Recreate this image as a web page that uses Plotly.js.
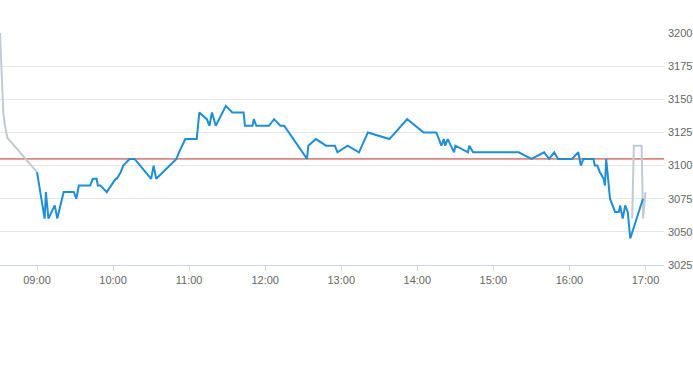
<!DOCTYPE html>
<html>
<head>
<meta charset="utf-8">
<script src="https://cdn.plot.ly/plotly-3.0.1.min.js"></script>
<style>html,body{margin:0;padding:0;background:#fff;}#chart{width:693px;height:365px;}</style>
</head>
<body>
<div id="chart"></div>
<script>
const day = '2024-01-02 ';
// pre-market (gray)
const preTimes = ['08:30:48','08:31:36','08:32:24','08:33:24','08:34:42','08:36:36','09:00:00'];
const preValues = [3200, 3180, 3160, 3140, 3130, 3121, 3095];
// session (blue)
const sessTimes = ['09:00','09:06','09:07','09:09','09:14','09:16','09:21','09:29','09:31','09:33',
 '09:42','09:44','09:47','09:48','09:50','09:55','10:02','10:03','10:06','10:08',
 '10:13','10:17','10:30','10:32','10:34','10:50','10:52','10:57','11:06','11:08',
 '11:14','11:16','11:18','11:21','11:29','11:34','11:43','11:44','11:50','11:51',
 '11:53','12:03','12:07','12:12','12:15','12:33','12:34','12:40','12:48','12:55',
 '12:57','13:05','13:14','13:21','13:38','13:52','14:05','14:15','14:19','14:21',
 '14:22','14:24','14:29','14:30','14:40','14:41','14:44','15:20','15:30','15:40',
 '15:44','15:48','15:51','16:02','16:07','16:09','16:11','16:19','16:20','16:22',
 '16:24','16:27','16:28','16:29','16:32','16:36','16:39','16:40','16:42','16:44',
 '16:46','16:48','16:58'];
const sessValues = [3095,3060,3080,3060,3070,3060,3080,3080,3075,3085,
 3085,3090,3090,3085,3085,3080,3090,3090,3095,3100,
 3105,3105,3090,3100,3090,3105,3110,3120,3120,3140,
 3135,3130,3140,3130,3145,3140,3140,3130,3130,3135,
 3130,3130,3135,3130,3130,3105,3115,3120,3115,3115,
 3110,3115,3110,3125,3120,3135,3125,3125,3115,3120,
 3115,3120,3110,3115,3110,3115,3110,3110,3105,3110,
 3105,3110,3105,3105,3110,3100,3105,3105,3100,3100,
 3095,3090,3085,3105,3075,3065,3065,3070,3060,3070,
 3065,3045,3075];
// post-market (gray)
const postTimes = ['16:49:30','16:50:48','16:56:56','16:58:06','17:00:00'];
const postValues = [3060, 3115, 3115, 3060, 3080];
const refValue = 3105;
const yTicks = [3025, 3050, 3075, 3100, 3125, 3150, 3175, 3200];

const toX = a => a.map(t => day + (t.length === 5 ? t + ':00' : t));

const traces = [
  {x: toX(preTimes), y: preValues, type: 'scatter', mode: 'lines',
   line: {color: '#c3cad2', width: 2}, hoverinfo: 'skip'},
  {x: toX(postTimes), y: postValues, type: 'scatter', mode: 'lines',
   line: {color: '#c3cad2', width: 2}, hoverinfo: 'skip'},
  {x: toX(sessTimes), y: sessValues, type: 'scatter', mode: 'lines',
   line: {color: '#1a8fdc', width: 2}}
];

const layout = {
  width: 693, height: 365,
  margin: {l: 0, r: 29, t: 33, b: 100},
  paper_bgcolor: '#fff', plot_bgcolor: '#fff',
  showlegend: false,
  font: {family: 'Liberation Sans, Arial, sans-serif', size: 11, color: '#666666'},
  xaxis: {
    type: 'date',
    range: [day + '08:30:48', day + '17:14:36'],
    tickformat: '%H:%M', dtick: 3600000, tick0: day + '09:00:00',
    showgrid: false, showline: true, linecolor: '#ccd6eb', linewidth: 1,
    ticks: 'outside', ticklen: 5, tickcolor: '#ccd6eb', zeroline: false,
    tickfont: {size: 11, color: '#666666'}
  },
  yaxis: {
    side: 'right', range: [3025, 3200],
    tickvals: yTicks, ticktext: yTicks.map(String),
    showgrid: true, gridcolor: '#e6e6e6', gridwidth: 1,
    zeroline: false, showline: false, ticks: '', ticklabelstandoff: 3,
    tickfont: {size: 11, color: '#666666'}
  },
  shapes: [{type: 'line', layer: 'below', xref: 'paper', x0: 0, x1: 1, yref: 'y', y0: refValue, y1: refValue,
    line: {color: '#cc2a24', width: 1}}]
};

Plotly.newPlot('chart', traces, layout, {displayModeBar: false, staticPlot: true});
</script>
</body>
</html>
